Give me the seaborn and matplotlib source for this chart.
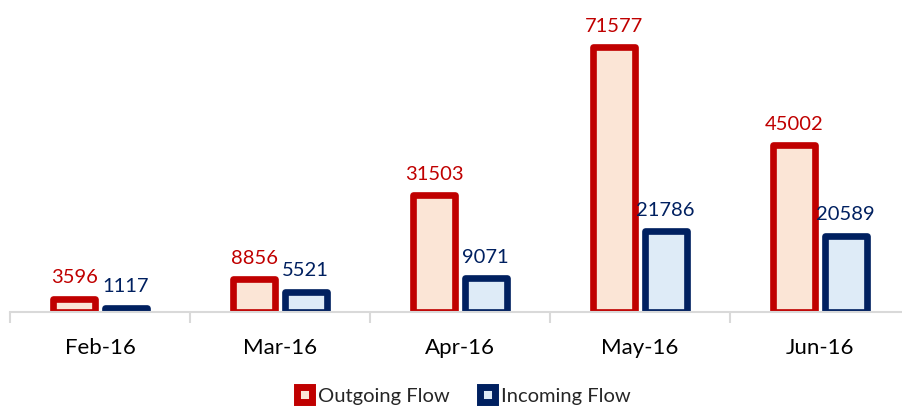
import pandas as pd
import matplotlib.pyplot as plt
import seaborn as sns
from matplotlib.patches import Patch
from matplotlib.ticker import FixedLocator

months = ["Feb-16", "Mar-16", "Apr-16", "May-16", "Jun-16"]
outgoing = [3596, 8856, 31503, 71577, 45002]
incoming = [1117, 5521, 9071, 21786, 20589]
series = ["Outgoing Flow", "Incoming Flow"]

edge_colors = {"Outgoing Flow": "#C00000", "Incoming Flow": "#002060"}
face_colors = {"Outgoing Flow": "#FBE5D6", "Incoming Flow": "#DEEBF7"}

df = pd.DataFrame({
    "month": months * 2,
    "value": outgoing + incoming,
    "flow": [series[0]] * len(months) + [series[1]] * len(months),
})

sns.set_theme(style="white")
plt.rcParams['font.family'] = ['Lato', 'DejaVu Sans']

fig = plt.figure(figsize=(9.02, 4.09), dpi=100)
ax = fig.add_axes([10 / 902, 1 - 312 / 409, 900 / 902, 296 / 409])

sns.barplot(data=df, x="month", y="value", hue="flow", hue_order=series,
            palette=face_colors, width=0.57, gap=0.18, legend=False, ax=ax)

# color the edges per series
for cont, name in zip(ax.containers, series):
    for bar in cont:
        bar.set_edgecolor(edge_colors[name])
        bar.set_linewidth(4.8)
        bar.set_joinstyle("round")
        bar.set_facecolor(face_colors[name])
    ax.bar_label(cont, labels=[str(int(v)) for v in cont.datavalues],
                 padding=9, fontsize=14.5, color=edge_colors[name], clip_on=False)

ax.set_ylim(0, 80000)
ax.set_xlim(-0.5, 4.5)
ax.set_xlabel("")
ax.set_ylabel("")
ax.set_yticks([])
for s in ["top", "left", "right"]:
    ax.spines[s].set_visible(False)
ax.spines["bottom"].set_color("#D9D9D9")
ax.spines["bottom"].set_linewidth(1.5)

ax.tick_params(axis="x", which="major", length=0, pad=19, labelsize=16, labelcolor="black")
ax.xaxis.set_minor_locator(FixedLocator([i - 0.5 for i in range(len(months) + 1)]))
ax.tick_params(axis="x", which="minor", length=8, width=1.5, color="#D9D9D9", bottom=True)

handles = [Patch(facecolor=face_colors[n], edgecolor=edge_colors[n], linewidth=5, label=n)
           for n in series]
fig.legend(handles=handles, loc="center", bbox_to_anchor=(0.514, 1 - 396 / 409), ncol=2,
           frameon=False, fontsize=14.5, handlelength=0.75, handleheight=0.75,
           handletextpad=0.3, columnspacing=1.5, borderpad=0, borderaxespad=0)

fig.savefig("out.png", dpi=100)
